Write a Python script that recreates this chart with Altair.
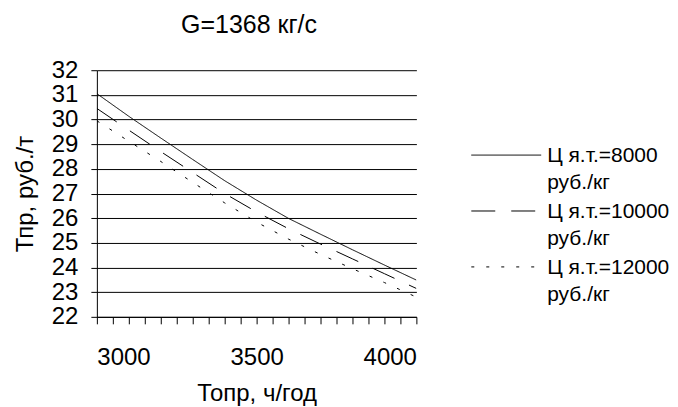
import altair as alt
import pandas as pd

x_vals = [3000, 3100, 3200, 3300, 3400, 3500, 3600, 3700, 3800, 3900, 4000]
s8000 = [31.05, 30.13, 29.25, 28.38, 27.52, 26.73, 25.99, 25.35, 24.72, 24.10, 23.49]
s10000 = [30.45, 29.57, 28.70, 27.85, 27.00, 26.25, 25.57, 24.95, 24.35, 23.75, 23.15]
s12000 = [29.95, 29.12, 28.30, 27.45, 26.62, 25.84, 25.15, 24.53, 23.95, 23.39, 22.80]
names = ["Ц я.т.=8000|руб./кг", "Ц я.т.=10000|руб./кг", "Ц я.т.=12000|руб./кг"]
dashes = [[1, 0], [24, 16], [3, 12]]

x_ticks = list(range(3000, 4001, 50))
y_ticks = [22 + 0.5 * i for i in range(21)]

rows = []
for name, ser in zip(names, [s8000, s10000, s12000]):
    for xv, yv in zip(x_vals, ser):
        rows.append({"x": xv, "y": yv, "series": name})
df = pd.DataFrame(rows)
leg_df = pd.DataFrame({"series": names})

FONT = "Liberation Sans"
dash_scale = alt.Scale(domain=names, range=dashes)

main = alt.Chart(df).mark_line(color="black", strokeWidth=1, clip=True).encode(
    x=alt.X("x:Q", scale=alt.Scale(domain=[3000, 4000], nice=False, zero=False),
            axis=alt.Axis(values=x_ticks, title="Топр, ч/год",
                          labelExpr="datum.value % 500 === 0 ? datum.label : ''",
                          labelOverlap=False, format="d", grid=False,
                          tickSize=7, tickColor="black", domainColor="black",
                          labelFontSize=24, titleFontSize=24, labelPadding=22,
                          titlePadding=12, titleFontWeight="normal",
                          labelFont=FONT, titleFont=FONT, labelColor="black", titleColor="black")),
    y=alt.Y("y:Q", scale=alt.Scale(domain=[22, 32], nice=False, zero=False),
            axis=alt.Axis(values=y_ticks, title="Тпр, руб./т", format="d",
                          labelExpr="datum.value % 1 === 0 ? datum.label : ''",
                          labelOverlap=False, grid=True, gridColor="black",
                          gridOpacity={"condition": {"test": "datum.value % 1 === 0", "value": 1}, "value": 0},
                          tickSize=6, tickColor="black", domainColor="black",
                          labelFontSize=24, titleFontSize=24, labelPadding=13,
                          titlePadding=14, titleFontWeight="normal",
                          labelFont=FONT, titleFont=FONT, labelColor="black", titleColor="black")),
    strokeDash=alt.StrokeDash("series:N", sort=names, scale=dash_scale, legend=None),
).properties(width=320, height=247)

leg_y = alt.Y("series:N", sort=names,
              scale=alt.Scale(type="point", domain=names, range=[85, 197], padding=0),
              axis=None)

leg_lines = alt.Chart(leg_df).mark_rule(color="black", strokeWidth=1).encode(
    y=leg_y,
    x=alt.value(54), x2=alt.value(124),
    strokeDash=alt.StrokeDash("series:N", sort=names, scale=dash_scale, legend=None),
)
leg_text = alt.Chart(leg_df).transform_calculate(
    lab="split(datum.series, '|')"
).mark_text(align="left", baseline="middle", lineHeight=27, dy=1,
            fontSize=21, font=FONT, color="black").encode(
    y=leg_y,
    x=alt.value(130),
    text="lab:N",
)
legend = alt.layer(leg_lines, leg_text).properties(width=250, height=247)

chart = alt.hconcat(main, legend, spacing=0).properties(
    padding={"left": 5, "top": 5, "right": 0, "bottom": 0},
    title=alt.TitleParams("G=1368 кг/с", fontSize=25, font=FONT, fontWeight="normal",
                          color="black", anchor="start", offset=20, dx=168),
).configure_view(stroke=None)

chart.save("out.html", embed_options={"renderer": "svg", "actions": False})
